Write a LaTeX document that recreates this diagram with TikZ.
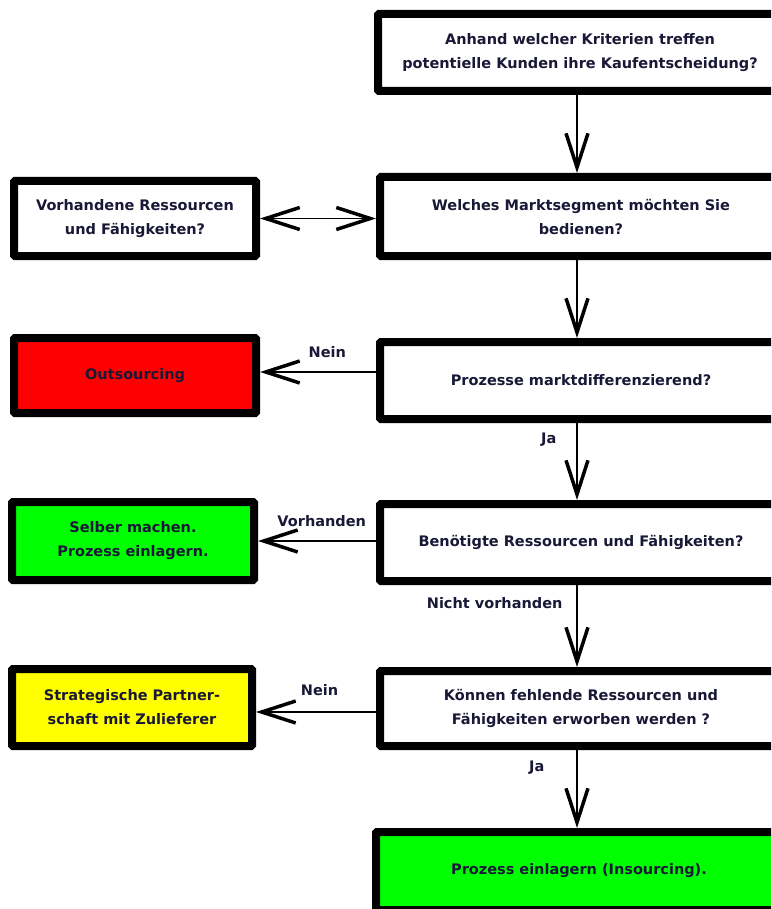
\documentclass[tikz,border=0pt]{standalone}
\usepackage{fontspec}
\setmainfont{DejaVu Sans}
\usepackage{tikz}
\usetikzlibrary{arrows.meta}
\definecolor{txt}{RGB}{25,25,55}
\definecolor{outred}{RGB}{255,0,0}
\definecolor{ingreen}{RGB}{0,255,0}
\definecolor{partyellow}{RGB}{255,255,0}
\newcommand{\arw}{-{Straight Barb[length=34pt,width=22pt,line width=3.5pt]}}
\newcommand{\darw}{{Straight Barb[length=34pt,width=22pt,line width=3.5pt]}-{Straight Barb[length=34pt,width=22pt,line width=3.5pt]}}

\begin{document}
\begin{tikzpicture}[x=1pt,y=-1pt,
  box/.style={draw=black,line width=8pt,rounded corners=1pt,fill=white,
    minimum width=402pt,minimum height=77pt,inner sep=0pt,outer sep=4pt,
    align=center,text=txt,font=\fontsize{14.5}{24}\selectfont\bfseries},
  sidebox/.style={box,minimum width=242pt},
  lbl/.style={text=txt,inner sep=0pt,font=\fontsize{14.5}{17}\selectfont\bfseries},
  conn/.style={line width=1.2pt}]
\useasboundingbox (0,0) rectangle (771,909);
\clip (0,0) rectangle (771,909);
% questions on the right
\node[box,minimum width=404pt] (q1) at (580,52.5) {Anhand welcher Kriterien treffen\\potentielle Kunden ihre Kaufentscheidung?};
\node[box,minimum height=79pt] (q2) at (581,216.5) {Welches Marktsegment möchten Sie\\bedienen?};
\node[box] (q3) at (581,380.5) {Prozesse marktdifferenzierend?};
\node[box] (q4) at (581,542.5) {Benötigte Ressourcen und Fähigkeiten?};
\node[box,minimum height=75pt] (q5) at (581,708.5) {Können fehlende Ressourcen und\\Fähigkeiten erworben werden ?};
\node[box,fill=ingreen,minimum width=406pt,minimum height=78pt] (q6) at (579,871) {Prozess einlagern (Insourcing).};
% results on the left
\node[sidebox,minimum height=75pt] (l2) at (135,218.5) {Vorhandene Ressourcen\\und Fähigkeiten?};
\node[sidebox,fill=outred,minimum height=75pt] (l3) at (135,375.5) {Outsourcing};
\node[sidebox,fill=ingreen,minimum height=78pt] (l4) at (133,541) {Selber machen.\\Prozess einlagern.};
\node[sidebox,fill=partyellow,minimum width=240pt] (l5) at (132,707.5) {Strategische Partner-\\schaft mit Zulieferer};
% connectors
\draw[conn,\arw] (q1.south -| 577,0) -- (q2.north -| 577,0);
\draw[conn,\arw] (q2.south -| 577,0) -- (q3.north -| 577,0);
\draw[conn,\arw] (q3.south -| 577,0) -- node[lbl,pos=.22,left=20pt] (ja1) {Ja} (q4.north -| 577,0);
\draw[conn,\arw] (q4.south -| 577,0) -- node[lbl,pos=.22,left=14pt] (nv) {Nicht vorhanden} (q5.north -| 577,0);
\draw[conn,\arw] (q5.south -| 577,0) -- node[lbl,pos=.22,left=32pt] (ja2) {Ja} (q6.north -| 577,0);
\draw[conn,\darw] (l2.east) -- (q2.west |- l2.east);
\draw[conn,\arw] (q3.west |- 0,372) -- node[lbl,pos=.42,above=14pt] (nein1) {Nein} (l3.east |- 0,372);
\draw[conn,\arw] (q4.west |- l4.east) -- node[lbl,pos=.46,above=14pt] (vh) {Vorhanden} (l4.east);
\draw[conn,\arw] (q5.west |- 0,712) -- node[lbl,pos=.47,above=16pt] (nein2) {Nein} (l5.east |- 0,712);
\end{tikzpicture}
\end{document}
